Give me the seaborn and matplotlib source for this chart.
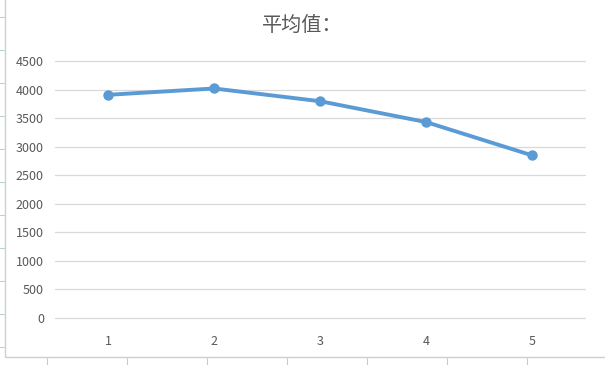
import pandas as pd
import matplotlib.pyplot as plt
import seaborn as sns
from matplotlib.lines import Line2D
from matplotlib.patches import Rectangle

# Values
categories = [1, 2, 3, 4, 5]
averages = [3907, 4018, 3795, 3430, 2847]
y_ticks = [0, 500, 1000, 1500, 2000, 2500, 3000, 3500, 4000, 4500]

df = pd.DataFrame({"x": categories, "avg": averages})

sns.set_theme(style="white")
plt.rcParams["font.family"] = ["Noto Sans CJK SC", "DejaVu Sans"]

fig = plt.figure(figsize=(6.05, 3.65), dpi=100)
ax = fig.add_axes([0.091, 0.129, 0.876, 0.704])

sns.lineplot(data=df, x="x", y="avg", ax=ax, color="#5B9BD5", linewidth=2.8,
             marker="o", markersize=7.5, markeredgewidth=0, markeredgecolor="#5B9BD5")

ax.set_xlim(0.5, 5.5)
ax.set_ylim(0, 4500)
ax.set_xticks(categories)
ax.set_xticklabels([str(c) for c in categories])
ax.set_yticks(y_ticks)
ax.set_yticklabels([str(v) for v in y_ticks])
for v in y_ticks:
    ax.axhline(v, color="#D9D9D9", linewidth=0.9, zorder=0, clip_on=False)
ax.tick_params(axis="both", length=0, labelsize=9, labelcolor="#595959")
ax.tick_params(axis="x", pad=12)
ax.tick_params(axis="y", pad=8)
ax.set_xlabel("")
ax.set_ylabel("")
for s in ax.spines.values():
    s.set_visible(False)

fig.text(0.5, 0.93, "平均值：", ha="center", va="center", fontsize=14.5, color="#595959")

# chart frame and the spreadsheet grid peeking around it
fig.add_artist(Rectangle((5 / 605, 1 - 357 / 365), 1.2, 1.2, transform=fig.transFigure,
                         fill=False, edgecolor="#C8D3CF", linewidth=1))
for x in [47, 127, 207, 287, 367, 447, 527]:
    fig.add_artist(Line2D([x / 605, x / 605], [0, 1 - 358 / 365], transform=fig.transFigure,
                          color="#B9D3C5", linewidth=0.8))
for y in [17, 50, 83, 116, 149, 182, 215, 248, 281, 314, 347]:
    fig.add_artist(Line2D([0, 4 / 605], [1 - y / 365, 1 - y / 365], transform=fig.transFigure,
                          color="#B9D3C5", linewidth=0.8))

fig.savefig("out.png", dpi=100)
